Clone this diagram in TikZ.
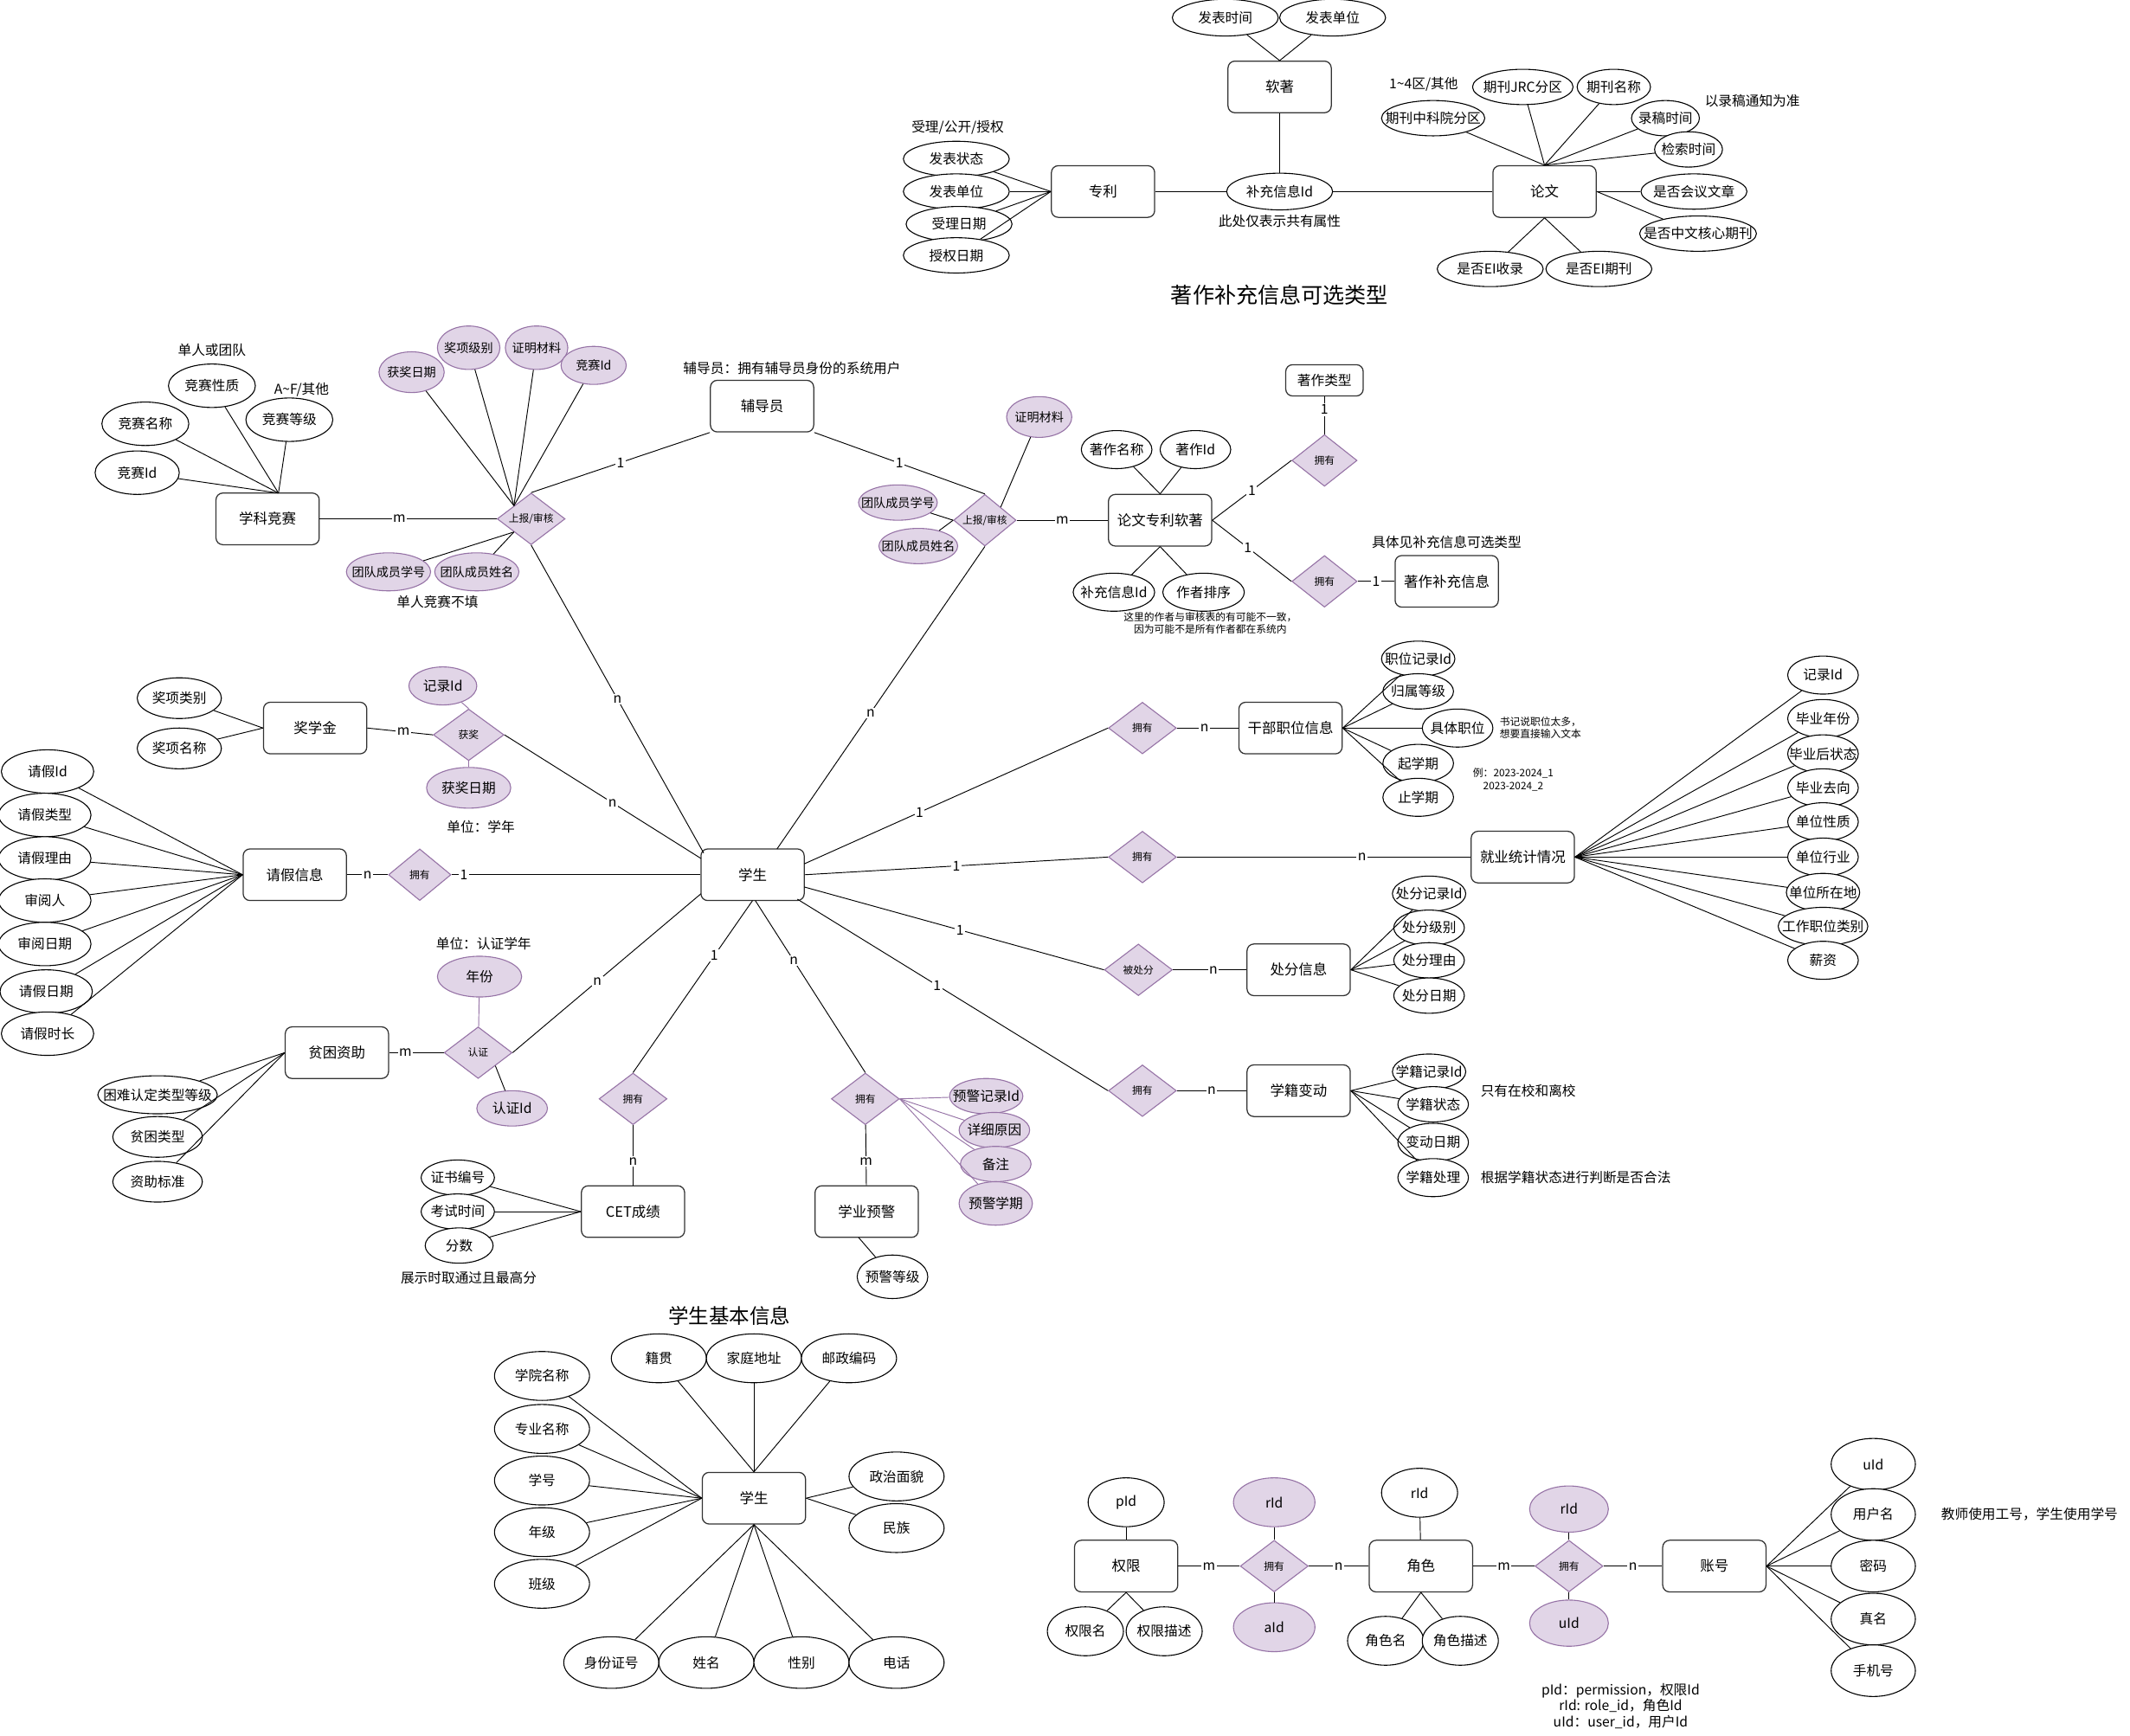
\documentclass[tikz,border=0pt]{standalone}
\usepackage{fontspec}
\setmainfont{Noto Sans CJK SC}
\usetikzlibrary{shapes.geometric}
\definecolor{pfill}{HTML}{E1D5E7}
\definecolor{pdraw}{HTML}{9673A6}
\definecolor{edraw}{HTML}{333333}
\newcommand\mkA[6][attr]{\node[#1,minimum width=#4,minimum height=#5] (#2) at (#3) {\makebox[0pt]{#6}};}
\newcommand\mkR[5]{\node[rel,minimum width=#3,minimum height=#4] (#1) at (#2) {\makebox[0pt]{#5}};}
\newcommand\mkE[3]{\node[ent] (#1) at (#2) {#3};}
\begin{document}
\begin{tikzpicture}[x=1pt,y=-1pt,line width=0.6pt,
 ent/.style={rectangle,rounded corners=5pt,draw=edraw,fill=white,line width=0.8pt,minimum width=76pt,minimum height=38pt,inner sep=0pt,font=\fontsize{10.5}{12}\selectfont},
 attr/.style={ellipse,draw=black,fill=white,line width=0.7pt,inner sep=0pt,font=\fontsize{10}{12}\selectfont},
 pattr/.style={attr,draw=pdraw,fill=pfill},
 spattr/.style={pattr,font=\fontsize{9}{11}\selectfont},
 rel/.style={diamond,draw=pdraw,fill=pfill,line width=0.7pt,inner sep=0pt,font=\fontsize{7.5}{9}\selectfont},
 lbl/.style={fill=white,inner sep=1pt,font=\fontsize{10}{12}\selectfont},
 note/.style={font=\fontsize{10}{12}\selectfont,inner sep=0pt},
 snote/.style={font=\fontsize{7.5}{9}\selectfont,inner sep=0pt,align=center},
 pln/.style={draw=pdraw}]
\fill[white] (0,0) rectangle (1568,1278);
\useasboundingbox (0,0) rectangle (1568,1278);

% ===== top: 著作补充信息可选类型 =====
\mkA{fbsj}{902,13}{78}{27}{发表时间}
\mkA{fbdw}{981,13}{78}{27}{发表单位}
\mkE{rz}{942,64}{软著}
\mkA{bcxx}{942,141}{78}{27}{补充信息Id}
\node[note] (tn1) at (942,163) {此处仅表示共有属性};
\mkE{zl}{812,141}{专利}
\mkE{lw}{1137,141}{论文}
\node[note] (tn2) at (705,94) {受理/公开/授权};
\mkA{fbzt}{704,117}{78}{26}{发表状态}
\mkA{fbdw2}{704,141}{78}{26}{发表单位}
\mkA{slrq}{706,165}{78}{26}{受理日期}
\mkA{sqrq}{704,188}{78}{26}{授权日期}
\node[note] (tn3) at (1048,62) {1\textasciitilde4区/其他};
\mkA{jrc}{1121,64}{74}{26}{期刊JRC分区}
\mkA{qkmc}{1188,64}{54}{26}{期刊名称}
\mkA{zky}{1055,87}{76}{26}{期刊中科院分区}
\node[note] (tn4) at (1290,74) {以录稿通知为准};
\mkA{lgsj}{1226,87}{50}{26}{录稿时间}
\mkA{jssj}{1243,110}{50}{26}{检索时间}
\mkA{hy}{1247,141}{78}{26}{是否会议文章}
\mkA{zw}{1250,172}{86}{26}{是否中文核心期刊}
\mkA{eisl}{1097,198}{78}{26}{是否EI收录}
\mkA{eiqk}{1177,198}{78}{26}{是否EI期刊}
\node[font=\fontsize{16}{18}\selectfont] (title1) at (942,217) {著作补充信息可选类型};
\draw (fbsj) -- (rz.north);
\draw (fbdw) -- (rz.north);
\draw (rz) -- (bcxx);
\draw (zl) -- (bcxx);
\draw (bcxx) -- (lw);
\foreach \n in {fbzt,fbdw2,slrq,sqrq} \draw (\n) -- (zl.west);
\foreach \n in {zky,jrc,qkmc,lgsj,jssj} \draw (\n) -- (lw.north);
\draw (lw.east) -- (hy);
\draw (lw.east) -- (zw);
\draw (lw.south) -- (eisl);
\draw (lw.south) -- (eiqk);

% ===== 学科竞赛 =====
\node[note] (tn5) at (156,258) {单人或团队};
\mkA{jsxz}{156,284}{64}{32}{竞赛性质}
\node[note] (tn6) at (222,287) {A\textasciitilde F/其他};
\mkA{jsdj}{213,309}{64}{32}{竞赛等级}
\mkA{jsmc}{107,312}{64}{32}{竞赛名称}
\mkA{jsid}{101,348}{62}{32}{竞赛Id}
\mkE{xkjs}{197,382}{学科竞赛}
\coordinate (xkjsT) at (205,363);
\foreach \n in {jsxz,jsdj,jsmc,jsid} \draw (\n) -- (xkjsT);
\mkR{sb1}{391,382}{50}{38}{上报/审核}
\mkA[spattr]{hjrq1}{303,274}{48}{30}{获奖日期}
\mkA[spattr]{jxjb}{345,256}{46}{32}{奖项级别}
\mkA[spattr]{zmcl1}{395,256}{46}{32}{证明材料}
\mkA[spattr]{jsid2}{437,269}{48}{28}{竞赛Id}
\foreach \n in {hjrq1,jxjb,zmcl1,jsid2} \draw (\n) -- (sb1.north west);
\mkA[spattr]{tdxh1}{286,421}{62}{28}{团队成员学号}
\mkA[spattr]{tdxm1}{351,421}{62}{28}{团队成员姓名}
\draw (sb1.south west) -- (tdxh1);
\draw (sb1.south west) -- (tdxm1);
\node[note] (tn7) at (322,443) {单人竞赛不填};
\draw (xkjs) -- node[lbl,pos=.45]{m} (sb1);

% ===== 辅导员 =====
\mkE{fdy}{561,299}{辅导员}
\node[note] (tn8) at (583,271) {辅导员：拥有辅导员身份的系统用户};
\draw (sb1.north) -- node[lbl]{1} (fdy.south west);

% ===== 学生 (center) =====
\mkE{xs}{554,644}{学生}
\coordinate (xsTL) at (518,628);
\coordinate (xsT) at (572,625);
\coordinate (xsL1) at (516,632);
\coordinate (xsL2) at (516,658);
\coordinate (xsB1) at (554,663);
\coordinate (xsB2) at (556,663);
\coordinate (xsR1) at (592,636);
\coordinate (xsR2) at (592,653);
\coordinate (xsR3) at (587,662);
\draw (sb1.south) -- node[lbl,pos=.5]{n} (xsTL);

% ===== 论文专利软著 =====
\mkR{sb2}{725,383}{46}{38}{上报/审核}
\draw (fdy.south east) -- node[lbl]{1} (sb2.north);
\mkA[spattr]{zmcl2}{765,307}{48}{30}{证明材料}
\draw (zmcl2) -- (sb2.north east);
\mkA[spattr]{tdxh2}{661,370}{58}{26}{团队成员学号}
\mkA[spattr]{tdxm2}{676,402}{58}{26}{团队成员姓名}
\draw (tdxh2) -- (sb2.west);
\draw (tdxm2) -- (sb2.west);
\mkE{lwzl}{854,383}{论文专利软著}
\draw (sb2) -- node[lbl]{m} (lwzl);
\mkA{zzmc}{822,331}{52}{28}{著作名称}
\mkA{zzid}{880,331}{52}{28}{著作Id}
\draw (zzmc) -- (lwzl.north);
\draw (zzid) -- (lwzl.north);
\mkA{bcxx2}{820,436}{60}{28}{补充信息Id}
\mkA{zzpx}{886,436}{60}{28}{作者排序}
\draw (lwzl.south) -- (bcxx2);
\draw (lwzl.south) -- (zzpx);
\node[snote] (tn9) at (891,459) {这里的作者与审核表的有可能不一致，\\因为可能不是所有作者都在系统内};
\node[ent,minimum width=57pt,minimum height=23pt,font=\fontsize{10}{12}\selectfont] (zzlx) at (975,280) {著作类型};
\mkR{yy1}{975,339}{48}{38}{拥有}
\draw (zzlx) -- node[lbl,pos=.35]{1} (yy1);
\draw (lwzl.east) -- node[lbl,pos=.5]{1} (yy1.west);
\mkR{yy2}{975,428}{48}{38}{拥有}
\draw (lwzl.east) -- node[lbl,pos=.45]{1} (yy2.west);
\mkE{zzbc}{1065,428}{著作补充信息}
\draw (yy2) -- node[lbl]{1} (zzbc);
\node[note] (tn10) at (1065,399) {具体见补充信息可选类型};
\draw (sb2.south) -- node[lbl,pos=.55]{n} (xsT);

% ===== 奖学金 =====
\mkA{jxlb}{132,514}{62}{30}{奖项类别}
\mkA{jxmc}{132,551}{62}{30}{奖项名称}
\mkE{jxj}{232,536}{奖学金}
\draw (jxlb) -- (jxj.west);
\draw (jxmc) -- (jxj.west);
\mkR{hj}{345,541}{52}{38}{获奖}
\draw (jxj.east) -- node[lbl,pos=.55]{m} (hj.west);
\mkA[pattr]{jlid}{326,505}{50}{28}{记录Id}
\draw[pln] (jlid) -- (hj.north);
\mkA[pattr]{hjrq2}{345,580}{62}{30}{获奖日期}
\draw[pln] (hj.south) -- (hjrq2);
\node[note] (tn11) at (354,609) {单位：学年};
\draw (hj.east) -- node[lbl,pos=.55]{n} (xsL1);

% ===== 请假信息 =====
\mkE{qjxx}{217,644}{请假信息}
\mkA{qjid}{35,568}{68}{32}{请假Id}
\mkA{qjlx}{33,600}{68}{32}{请假类型}
\mkA{qjly}{33,632}{68}{32}{请假理由}
\mkA{syr}{33,663}{68}{32}{审阅人}
\mkA{syrq}{33,695}{68}{32}{审阅日期}
\mkA{qjrq}{34,730}{68}{32}{请假日期}
\mkA{qjsc}{35,761}{68}{32}{请假时长}
\foreach \n in {qjid,qjlx,qjly,syr,syrq,qjrq,qjsc} \draw (\n) -- (qjxx.west);
\mkR{yy3}{309,644}{46}{38}{拥有}
\draw (qjxx) -- node[lbl]{n} (yy3);
\draw (yy3) -- node[lbl,pos=.05]{1} (xs);

% ===== 贫困资助 =====
\node[note] (tn12) at (356,695) {单位：认证学年};
\mkA[pattr]{nf}{353,719}{62}{30}{年份}
\mkR{rz2}{352,775}{50}{38}{认证}
\draw[pln] (nf) -- (rz2);
\mkE{pkzz}{248,775}{贫困资助}
\draw (pkzz) -- node[lbl,pos=.3]{m} (rz2);
\draw (rz2.east) -- node[lbl,pos=.45]{n} (xsL2);
\mkA[pattr]{rzid}{377,816}{52}{26}{认证Id}
\draw (rz2.south east) -- (rzid);
\mkA{knrd}{116,806}{88}{28}{困难认定类型等级}
\mkA{pklx}{116,837}{66}{30}{贫困类型}
\mkA{zzbz}{116,870}{66}{30}{资助标准}
\foreach \n in {knrd,pklx,zzbz} \draw (\n) -- (pkzz.west);

% ===== CET / 学业预警 =====
\mkR{yy4}{466,809}{50}{38}{拥有}
\draw (xsB1) -- node[lbl,pos=.32]{1} (yy4.north);
\mkE{cet}{466,892}{CET成绩}
\draw (yy4) -- node[lbl,pos=.6]{n} (cet);
\mkA{zsbh}{337,867}{54}{26}{证书编号}
\mkA{kssj}{337,892}{54}{26}{考试时间}
\mkA{fs}{338,917}{50}{26}{分数}
\foreach \n in {zsbh,kssj,fs} \draw (\n) -- (cet.west);
\node[note] (tn13) at (345,941) {展示时取通过且最高分};
\mkR{yy5}{637,809}{50}{38}{拥有}
\draw (xsB2) -- node[lbl,pos=.35]{n} (yy5.north);
\mkE{xyyj}{638,892}{学业预警}
\draw (yy5) -- node[lbl,pos=.6]{m} (xyyj);
\mkA{yjdj}{657,940}{52}{32}{预警等级}
\coordinate (xyyjB) at (632,911);
\draw (xyyjB) -- (yjdj);
\mkA[pattr]{yjid}{726,807}{54}{26}{预警记录Id}
\mkA[pattr]{xxyy}{732,832}{52}{26}{详细原因}
\mkA[pattr]{bz}{733,857}{52}{26}{备注}
\mkA[pattr]{yjxq}{733,886}{54}{32}{预警学期}
\foreach \n in {yjid,xxyy,bz,yjxq} \draw[pln] (yy5.east) -- (\n);

% ===== 干部职位信息 =====
\mkR{yy6}{841,536}{50}{38}{拥有}
\draw (xsR1) -- node[lbl,pos=.38]{1} (yy6.west);
\mkE{gbzw}{950,536}{干部职位信息}
\draw (yy6) -- node[lbl,pos=.45]{n} (gbzw);
\mkA{zwid}{1044,485}{54}{26}{职位记录Id}
\mkA{gsdj}{1044,509}{52}{26}{归属等级}
\mkA{jtzw}{1073,536}{52}{28}{具体职位}
\mkA{qxq}{1044,562}{52}{28}{起学期}
\mkA{zxq}{1044,587}{52}{28}{止学期}
\foreach \n in {zwid,gsdj,jtzw,qxq,zxq} \draw (gbzw.east) -- (\n);
\node[snote,align=left] (tn14) at (1134,536) {书记说职位太多，\\想要直接输入文本};
\node[snote] (tn15) at (1114,574) {例：2023-2024\_1\\2023-2024\_2};

% ===== 就业统计情况 =====
\mkR{yy7}{841,631}{50}{38}{拥有}
\draw (xs.east) -- node[lbl,pos=.5]{1} (yy7.west);
\mkE{jytj}{1121,631}{就业统计情况}
\draw (yy7) -- node[lbl,pos=.63]{n} (jytj);
\mkA{jlid2}{1342,497}{52}{28}{记录Id}
\mkA{bynf}{1342,529}{52}{28}{毕业年份}
\mkA{byzt}{1342,555}{52}{28}{毕业后状态}
\mkA{byqx}{1342,580}{52}{28}{毕业去向}
\mkA{dwxz}{1342,605}{52}{28}{单位性质}
\mkA{dwhy}{1342,631}{52}{28}{单位行业}
\mkA{dwsz}{1342,657}{54}{28}{单位所在地}
\mkA{gzzw}{1342,682}{66}{28}{工作职位类别}
\mkA{xz}{1342,707}{52}{28}{薪资}
\foreach \n in {jlid2,bynf,byzt,byqx,dwxz,dwhy,dwsz,gzzw,xz} \draw (jytj.east) -- (\n);

% ===== 处分信息 =====
\mkR{bcf}{838,714}{50}{38}{被处分}
\draw (xsR2) -- node[lbl,pos=.52]{1} (bcf.west);
\mkE{cfxx}{956,714}{处分信息}
\draw (bcf) -- node[lbl,pos=.55]{n} (cfxx);
\mkA{cfid}{1052,658}{54}{26}{处分记录Id}
\mkA{cfjb}{1052,683}{52}{26}{处分级别}
\mkA{cfly}{1052,707}{52}{26}{处分理由}
\mkA{cfrq}{1052,733}{52}{26}{处分日期}
\foreach \n in {cfid,cfjb,cfly,cfrq} \draw (cfxx.east) -- (\n);

% ===== 学籍变动 =====
\mkR{yy8}{841,803}{50}{38}{拥有}
\draw (xsR3) -- node[lbl,pos=.45]{1} (yy8.west);
\mkE{xjbd}{956,803}{学籍变动}
\draw (yy8) -- node[lbl,pos=.5]{n} (xjbd);
\mkA{xjid}{1052,789}{54}{26}{学籍记录Id}
\mkA{xjzt}{1055,813}{52}{26}{学籍状态}
\mkA{bdrq}{1055,841}{52}{28}{变动日期}
\mkA{xjcl}{1055,867}{52}{28}{学籍处理}
\foreach \n in {xjid,xjzt,bdrq,xjcl} \draw (xjbd.east) -- (\n);
\node[note] (tn16) at (1125,803) {只有在校和离校};
\node[note] (tn17) at (1160,867) {根据学籍状态进行判断是否合法};

% ===== 学生基本信息 =====
\node[font=\fontsize{15}{17}\selectfont] (title2) at (537,969) {学生基本信息};
\mkE{xs2}{555,1103}{学生}
\mkA{jg}{485,1000}{70}{36}{籍贯}
\mkA{jtdz}{555,1000}{70}{36}{家庭地址}
\mkA{yzbm}{625,1000}{70}{36}{邮政编码}
\foreach \n in {jg,jtdz,yzbm} \draw (\n) -- (xs2.north);
\mkA{xymc}{399,1013}{70}{36}{学院名称}
\mkA{zymc}{399,1052}{70}{36}{专业名称}
\mkA{xh}{399,1090}{70}{36}{学号}
\mkA{nj}{399,1128}{70}{36}{年级}
\mkA{bj}{399,1166}{70}{36}{班级}
\foreach \n in {xymc,zymc,xh,nj,bj} \draw (\n) -- (xs2.west);
\mkA{zzmm}{660,1087}{70}{36}{政治面貌}
\mkA{mz}{660,1125}{70}{36}{民族}
\foreach \n in {zzmm,mz} \draw (\n) -- (xs2.east);
\mkA{sfzh}{450,1224}{70}{38}{身份证号}
\mkA{xm}{520,1224}{70}{38}{姓名}
\mkA{xb}{590,1224}{70}{38}{性别}
\mkA{dh}{660,1224}{70}{38}{电话}
\foreach \n in {sfzh,xm,xb,dh} \draw (xs2.south) -- (\n);

% ===== 权限 / 角色 / 账号 =====
\mkE{qx}{829,1153}{权限}
\mkA{pid}{829,1106}{56}{36}{pId}
\mkA{qxm}{799,1201}{56}{36}{权限名}
\mkA{qxms}{857,1201}{56}{36}{权限描述}
\draw (pid) -- (qx);
\draw (qx.south) -- (qxm);
\draw (qx.south) -- (qxms);
\mkR{yy9}{938,1153}{50}{38}{拥有}
\mkA[pattr]{rid1}{938,1106}{60}{36}{rId}
\mkA[pattr]{aid}{938,1198}{60}{36}{aId}
\draw (rid1) -- (yy9);
\draw (yy9) -- (aid);
\mkE{js}{1046,1153}{角色}
\draw (qx) -- node[lbl]{m} (yy9);
\draw (yy9) -- node[lbl]{n} (js);
\mkA{rid2}{1045,1099}{56}{36}{rId}
\mkA{jsm}{1020,1208}{56}{36}{角色名}
\mkA{jsms}{1075,1208}{56}{36}{角色描述}
\draw (rid2) -- (js);
\draw (js.south) -- (jsm);
\draw (js.south) -- (jsms);
\mkR{yy10}{1155,1153}{50}{38}{拥有}
\mkA[pattr]{rid3}{1155,1111}{58}{34}{rId}
\mkA[pattr]{uid1}{1155,1195}{58}{34}{uId}
\draw (rid3) -- (yy10);
\draw (yy10) -- (uid1);
\mkE{zh}{1262,1153}{账号}
\draw (js) -- node[lbl]{m} (yy10);
\draw (yy10) -- node[lbl]{n} (zh);
\mkA{uid2}{1379,1078}{62}{38}{uId}
\mkA{yhm}{1379,1115}{62}{38}{用户名}
\mkA{mm}{1379,1153}{62}{38}{密码}
\mkA{zm}{1379,1192}{62}{38}{真名}
\mkA{sjh}{1379,1230}{62}{38}{手机号}
\foreach \n in {uid2,yhm,mm,zm,sjh} \draw (zh.east) -- (\n);
\node[note] (tn18) at (1494,1115) {教师使用工号，学生使用学号};
\node[note,align=center] (tn19) at (1193,1256) {pId：permission，权限Id\\rId: role\_id，角色Id\\uId：user\_id，用户Id};
\end{tikzpicture}
\end{document}
